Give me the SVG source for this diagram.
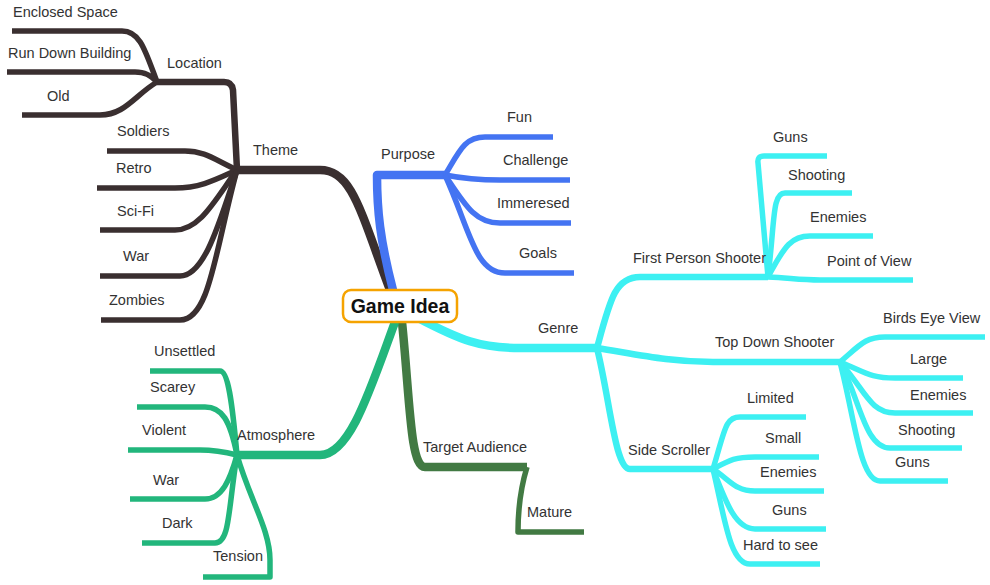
<svg xmlns="http://www.w3.org/2000/svg" width="990" height="585" viewBox="0 0 990 585">
<style>
.l{fill:none;stroke-linecap:butt;stroke-linejoin:round}
.t{font-family:"Liberation Sans",Arial,sans-serif;font-size:14.5px;fill:#333}
.th{stroke:#3a2f30}.pu{stroke:#4474f2}.ge{stroke:#3df0f2}.ta{stroke:#427a43}.at{stroke:#22b67c}
.w1{stroke-width:8.5}.w2{stroke-width:6.5}.w3{stroke-width:5.5}
</style>
<rect width="990" height="585" fill="#fff"/>
<g id="connectors">
<path class="l th w1" d="M390,290 C360,210 352,170 320,170 L237,170"/>
<path class="l th w2" d="M237,170 L233,90 Q232,82 224,82 L157,82"/>
<path class="l th w3" d="M157,82 C145,50 140,31 122,31 L12,31"/>
<path class="l th w3" d="M157,82 C150,75 145,72 135,72 L7,72"/>
<path class="l th w3" d="M157,82 C135,95 125,115 100,115 L22,115"/>
<path class="l th w3" d="M237,170 C215,160 205,151 185,151 L107,151"/>
<path class="l th w3" d="M237,170 C215,180 200,188 175,188 L97,188"/>
<path class="l th w3" d="M237,170 C215,200 200,230 175,230 L100,230"/>
<path class="l th w3" d="M237,170 C220,220 205,276 180,276 L100,276"/>
<path class="l th w3" d="M237,170 C215,250 210,320 180,320 L101,320"/>

<path class="l pu w1" d="M393,290 C380,240 377,210 377,175 L445,175"/>
<path class="l pu w3" d="M445,175 C460,150 465,137 485,137 L553,137"/>
<path class="l pu w3" d="M445,175 C460,178 480,180 500,180 L570,180"/>
<path class="l pu w3" d="M445,175 C465,205 475,223 500,223 L571,223"/>
<path class="l pu w3" d="M445,175 C470,230 475,273 505,273 L574,273"/>

<path class="l ge w1" d="M418,318 C460,340 480,348 520,348 L597,348"/>
<path class="l ge w2" d="M597,348 C610,300 615,277 640,277 L768,277"/>
<path class="l ge w3" d="M768,277 L758,163 Q757,156 764,156 L827,156"/>
<path class="l ge w3" d="M768,277 C775,220 772,193 785,193 L852,193"/>
<path class="l ge w3" d="M768,277 C785,245 792,236 810,236 L873,236"/>
<path class="l ge w3" d="M768,277 C790,278 800,280 820,280 L913,280"/>
<path class="l ge w2" d="M597,348 C640,355 670,362 713,362 L840,362"/>
<path class="l ge w3" d="M840,362 C860,345 865,337 885,337 L985,337"/>
<path class="l ge w3" d="M840,362 C865,372 870,378 895,378 L963,378"/>
<path class="l ge w3" d="M840,362 C865,390 870,413 895,413 L973,413"/>
<path class="l ge w3" d="M840,362 C860,400 865,448 890,448 L962,448"/>
<path class="l ge w3" d="M840,362 C855,420 860,481 880,481 L948,481"/>
<path class="l ge w2" d="M597,348 C610,400 615,469 630,469 L713,469"/>
<path class="l ge w3" d="M713,469 C725,430 725,417 740,417 L806,417"/>
<path class="l ge w3" d="M713,469 C730,460 735,457 755,457 L819,457"/>
<path class="l ge w3" d="M713,469 C730,480 735,491 755,491 L824,491"/>
<path class="l ge w3" d="M713,469 C725,500 735,529 755,529 L826,529"/>
<path class="l ge w3" d="M713,469 C725,520 730,564 750,564 L820,564"/>

<path class="l ta w1" d="M402,322 C410,400 410,467 425,467 L527,467"/>
<path class="l ta w3" d="M527,467 C520,490 518,510 518,532 L584,532"/>

<path class="l at w1" d="M395,322 C370,390 350,455 320,455 L237,455"/>
<path class="l at w3" d="M237,455 C232,400 228,371 220,371 L150,371"/>
<path class="l at w3" d="M237,455 C230,420 222,407 205,407 L137,407"/>
<path class="l at w3" d="M237,455 C225,452 215,450 200,450 L128,450"/>
<path class="l at w3" d="M237,455 C230,480 222,499 205,499 L130,499"/>
<path class="l at w3" d="M237,455 C228,510 230,543 215,543 L142,543"/>
<path class="l at w3" d="M237,455 C250,500 270,530 270,560 L270,577 L203,577"/>
</g>
<g id="center"><rect x="343" y="290" width="114" height="32" rx="8" fill="#fff" stroke="#f5a300" stroke-width="2.5"/><text x="400" y="313" text-anchor="middle" style="font-family:'Liberation Sans',Arial,sans-serif;font-size:19.5px;font-weight:bold;fill:#111">Game Idea</text></g>
<g id="theme"><text class="t" x="253" y="155">Theme</text></g>
<g id="location"><text class="t" x="167" y="68">Location</text></g>
<g id="enclosed"><text class="t" x="13" y="17">Enclosed Space</text></g>
<g id="rundown"><text class="t" x="8" y="58">Run Down Building</text></g>
<g id="old"><text class="t" x="47" y="101">Old</text></g>
<g id="soldiers"><text class="t" x="117" y="136">Soldiers</text></g>
<g id="retro"><text class="t" x="116" y="173">Retro</text></g>
<g id="scifi"><text class="t" x="117" y="216">Sci-Fi</text></g>
<g id="war1"><text class="t" x="123" y="261">War</text></g>
<g id="zombies"><text class="t" x="109" y="305">Zombies</text></g>
<g id="purpose"><text class="t" x="381" y="159">Purpose</text></g>
<g id="fun"><text class="t" x="507" y="122">Fun</text></g>
<g id="challenge"><text class="t" x="503" y="165">Challenge</text></g>
<g id="immeresed"><text class="t" x="497" y="208">Immeresed</text></g>
<g id="goals"><text class="t" x="519" y="258">Goals</text></g>
<g id="genre"><text class="t" x="538" y="333">Genre</text></g>
<g id="fps"><text class="t" x="633" y="263">First Person Shooter</text></g>
<g id="guns1"><text class="t" x="773" y="142">Guns</text></g>
<g id="shooting1"><text class="t" x="788" y="180">Shooting</text></g>
<g id="enemies1"><text class="t" x="810" y="222">Enemies</text></g>
<g id="pov"><text class="t" x="827" y="266">Point of View</text></g>
<g id="tds"><text class="t" x="715" y="347">Top Down Shooter</text></g>
<g id="birds"><text class="t" x="883" y="323">Birds Eye View</text></g>
<g id="large"><text class="t" x="910" y="364">Large</text></g>
<g id="enemies2"><text class="t" x="910" y="400">Enemies</text></g>
<g id="shooting2"><text class="t" x="898" y="435">Shooting</text></g>
<g id="guns2"><text class="t" x="895" y="467">Guns</text></g>
<g id="ss"><text class="t" x="628" y="455">Side Scroller</text></g>
<g id="limited"><text class="t" x="747" y="403">Limited</text></g>
<g id="small"><text class="t" x="765" y="443">Small</text></g>
<g id="enemies3"><text class="t" x="760" y="477">Enemies</text></g>
<g id="guns3"><text class="t" x="772" y="515">Guns</text></g>
<g id="hard"><text class="t" x="743" y="550">Hard to see</text></g>
<g id="target"><text class="t" x="423" y="452">Target Audience</text></g>
<g id="mature"><text class="t" x="527" y="517">Mature</text></g>
<g id="atmosphere"><text class="t" x="237" y="440">Atmosphere</text></g>
<g id="unsettled"><text class="t" x="154" y="356">Unsettled</text></g>
<g id="scarey"><text class="t" x="150" y="392">Scarey</text></g>
<g id="violent"><text class="t" x="142" y="435">Violent</text></g>
<g id="war2"><text class="t" x="153" y="485">War</text></g>
<g id="dark"><text class="t" x="162" y="528">Dark</text></g>
<g id="tension"><text class="t" x="213" y="561">Tension</text></g>
</svg>
